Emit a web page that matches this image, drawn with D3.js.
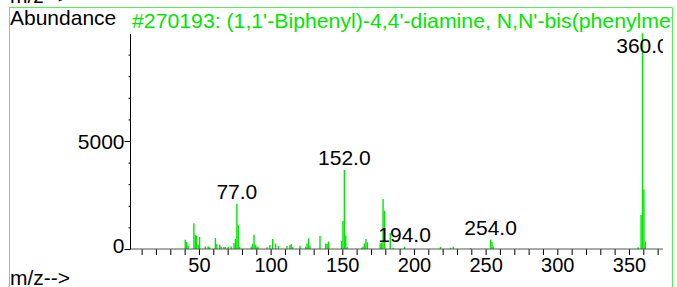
<!DOCTYPE html>
<html>
<head>
<meta charset="utf-8">
<script src="https://cdn.jsdelivr.net/npm/d3@7"></script>
<style>
  body { margin: 0; background: #fff; }
  svg { display: block; font-family: "Liberation Sans", Arial, sans-serif; }
</style>
</head>
<body>
<svg id="chart" width="677" height="287"></svg>
<script>
// spectrum data
const mz = [41, 42, 43, 47, 48, 49, 50, 51, 55, 57, 58, 62, 63, 65, 66, 68, 69, 71, 73, 75, 76, 77, 78, 79,
  87, 88, 89, 90, 91, 92, 98, 100, 102, 104, 106, 112, 114, 115, 116, 121, 125, 126, 127, 128, 135,
  139, 140, 141, 150, 151, 152, 153, 154, 164, 165, 166, 167, 168, 177, 178, 179, 180, 184, 186,
  194, 219, 226, 228, 240, 254, 255, 256, 357, 359, 360, 361, 362];
const abundance = [430, 325, 150, 1190, 660, 615, 200, 555, 120, 120, 80, 510, 245, 200, 120, 90, 90, 90, 120, 280, 460, 2100, 1100, 100,
  100, 245, 660, 200, 120, 80, 80, 185, 460, 260, 140, 140, 185, 230, 80, 150, 110, 260, 490, 150, 600,
  260, 230, 340, 370, 1300, 3660, 620, 80, 60, 120, 260, 460, 310, 270, 290, 2310, 1770, 740, 60,
  100, 100, 60, 100, 40, 430, 325, 120, 80, 1570, 9990, 2760, 340];
const labelledPeaks = [77, 152, 194, 254, 360];
const xTicks = [50, 100, 150, 200, 250, 300, 350];
const yTicks = [0, 5000];
const title = "#270193: (1,1'-Biphenyl)-4,4'-diamine, N,N'-bis(phenylmethylene)-";

const svg = d3.select("#chart");
const green = "#00e600";

const x = d3.scaleLinear().domain([0, 375]).range([127.3, 664.8]);
const y = d3.scaleLinear().domain([0, 10000]).range([249, 33]);

const defs = svg.append("defs");
defs.append("clipPath").attr("id", "plotClip")
  .append("rect").attr("x", 0).attr("y", 0).attr("width", 663).attr("height", 287);
defs.append("clipPath").attr("id", "frameClip")
  .append("rect").attr("x", 0).attr("y", 0).attr("width", 672).attr("height", 287);

// green frame
svg.append("path")
  .attr("d", "M9.5,287V7.5H672.5V287")
  .attr("fill", "none")
  .attr("stroke", "#55ee55")
  .attr("stroke-width", 1);

// header texts
svg.append("text").attr("x", 10).attr("y", 3).attr("font-size", 21).text("m/z-->");
svg.append("text").attr("x", 10).attr("y", 25).attr("font-size", 21).text("Abundance");
svg.append("text").attr("x", 132).attr("y", 28).attr("font-size", 21)
  .attr("textLength", 621.5).attr("lengthAdjust", "spacingAndGlyphs")
  .attr("fill", green).attr("clip-path", "url(#frameClip)").text(title);
svg.append("text").attr("x", 10).attr("y", 285).attr("font-size", 21).text("m/z-->");

// bars
svg.append("g").selectAll("line")
  .data(mz.map((m, i) => ({ m, v: abundance[i] })))
  .enter().append("line")
  .attr("x1", d => x(d.m) - 0.8)
  .attr("x2", d => x(d.m) - 0.8)
  .attr("y1", y(0))
  .attr("y2", d => y(d.v))
  .attr("stroke", green)
  .attr("stroke-width", 1.4);

// x axis
const xAxis = d3.axisBottom(x)
  .tickValues(d3.range(10, 371, 10))
  .tickSize(6)
  .tickFormat(d => xTicks.includes(d) ? d : "");
const gx = svg.append("g").attr("transform", `translate(0,${y(0)})`).call(xAxis);
gx.select(".domain").remove();
gx.append("line").attr("x1", 130).attr("x2", 663).attr("stroke", "#555");
gx.selectAll(".tick line").attr("stroke", "#000");
gx.selectAll(".tick text").attr("font-size", 20).attr("font-family", "Liberation Sans, Arial, sans-serif")
  .attr("fill", "#000").attr("dy", "0.7em").attr("y", 9);

// y axis
const yAxis = d3.axisLeft(y)
  .tickValues(d3.range(0, 10000, 1000))
  .tickSize(2)
  .tickFormat("");
const gy = svg.append("g").attr("transform", "translate(130.5,0)").call(yAxis);
gy.select(".domain").remove();
gy.append("line").attr("y1", y(0)).attr("y2", y(9950)).attr("stroke", "#000");
gy.selectAll(".tick line").attr("stroke", "#000");
gy.selectAll(".major").data(yTicks).enter().append("line")
  .attr("x1", -6).attr("x2", 0)
  .attr("y1", d => y(d) + 0.5).attr("y2", d => y(d) + 0.5)
  .attr("stroke", "#000");
gy.selectAll(".ylab").data(yTicks).enter().append("text")
  .attr("x", -6)
  .attr("y", d => d === 0 ? y(d) - 4 : y(d))
  .attr("dy", "0.36em")
  .attr("text-anchor", "end")
  .attr("font-size", 21)
  .attr("fill", "#000")
  .text(d => d);

// peak labels
svg.append("g").attr("clip-path", "url(#plotClip)")
  .selectAll("text")
  .data(labelledPeaks)
  .enter().append("text")
  .attr("x", d => x(d) - 0.8)
  .attr("y", d => Math.max(y(abundance[mz.indexOf(d)]) - 5, 53))
  .attr("text-anchor", "middle")
  .attr("font-size", 21)
  .text(d => d.toFixed(1));
</script>
</body>
</html>
